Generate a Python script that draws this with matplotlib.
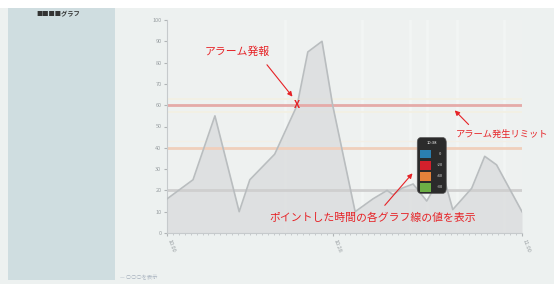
import matplotlib
matplotlib.use("Agg")
import matplotlib.pyplot as plt
from matplotlib.patches import Rectangle, FancyBboxPatch

plt.rcParams['font.family'] = ['Noto Sans CJK JP', 'DejaVu Sans']

# ---- data ----
minutes = [0, 4.4, 8.1, 12.2, 14.0, 18.2, 22.0, 23.8, 26.2, 28.0, 31.8, 34.8,
           37.2, 38.2, 39.7, 41.6, 43.9, 46.6, 48.3, 51.5, 53.7, 55.7, 60]
values = [16, 25, 55, 10, 25, 37, 60, 85, 90, 60, 10, 16,
          20, 18, 21, 23, 15, 28, 11, 21, 36, 32, 10]
limit_lines = [60, 40, 20]
limit_colors = ['#e5aaa8', '#f0cfbb', '#cfcfcf']
x_tick_pos = [0, 28, 60]
x_tick_labels = ['10:00', '10:28', '11:00']
y_ticks = [0, 10, 20, 30, 40, 50, 60, 70, 80, 90, 100]
tip_header = '10:38'
tip_colors = ['#2a7fb0', '#d3202c', '#e3823a', '#6cae45']
tip_values = ['0', '-20', '-40', '-30']
alarm_point = (22.0, 60)

W, H = 554, 284
fig = plt.figure(figsize=(W / 100, H / 100), dpi=100)
fig.patch.set_facecolor('#edf1f0')

def fx(px):
    return px / W

def fy(py):
    return 1 - py / H

# top white strip
fig.patches.append(Rectangle((0, fy(8)), 1, 8 / H, transform=fig.transFigure,
                             facecolor='white', edgecolor='none', zorder=0))
# left panel
fig.patches.append(Rectangle((fx(8), fy(280)), (115 - 8) / W, (280 - 8) / H,
                             transform=fig.transFigure, facecolor='#cfdde0',
                             edgecolor='none', zorder=0))
fig.text(fx(36), fy(14), '■■■■グラフ', fontsize=4.5, color='#333333',
         va='center', ha='left', fontweight='bold')
fig.text(fx(120), fy(278), '— ○○○を表示', fontsize=3.8, color='#aab4c0',
         va='center', ha='left')

ax = fig.add_axes([fx(167), fy(233), fx(522) - fx(167), fy(20) - fy(233)])
ax.set_facecolor('#eef1f0')
ax.set_xlim(0, 60)
ax.set_ylim(0, 100)

# faint vertical bands
for xb in [20, 33, 41, 44, 49, 57]:
    ax.axvline(xb, color='#f2f5f4', lw=2.0, zorder=0)

# faint bands near limit
ax.axhline(63, color='#f3f0e2', lw=1.2, zorder=1)
ax.axhline(57, color='#f3f0e2', lw=1.2, zorder=1)
ax.axhline(43, color='#f3efe6', lw=1.0, zorder=1)

for yv, c in zip(limit_lines, limit_colors):
    ax.axhline(yv, color=c, lw=2.0, zorder=2)

ax.fill_between(minutes, values, 0, color='#d9dbdc', alpha=0.75, zorder=1.5, lw=0)
ax.plot(minutes, values, color='#b9bdbf', lw=1.2, zorder=3)

ax.set_yticks(y_ticks)
ax.set_yticklabels([str(v) for v in y_ticks], fontsize=4, color='#9aa0a3')
ax.set_xticks(x_tick_pos)
ax.set_xticklabels(x_tick_labels, fontsize=4, color='#9aa0a3', rotation=-70,
                   ha='left')
ax.set_xticks(range(0, 61), minor=True)
ax.tick_params(axis='both', which='major', length=2, color='#b0b4b6', pad=2)
ax.tick_params(axis='x', which='minor', length=1.5, color='#c0c4c6')
for s in ['top', 'right']:
    ax.spines[s].set_visible(False)
ax.spines['left'].set_color('#c6cacc')
ax.spines['bottom'].set_color('#c6cacc')

red = '#e62226'
ax.text(alarm_point[0], alarm_point[1], 'X', color=red, fontsize=7,
        ha='center', va='center', zorder=6, fontweight='bold')
ax.annotate('', xy=(21.5, 63), xytext=(16.6, 80), zorder=6,
            arrowprops=dict(arrowstyle='-|>', color=red, lw=0.8,
                            mutation_scale=7))
ax.text(11.8, 85, 'アラーム発報', color=red, fontsize=7.8, ha='center',
        va='center', zorder=6)

ax.annotate('', xy=(48.3, 58.5), xytext=(51.3, 50), zorder=6,
            arrowprops=dict(arrowstyle='-|>', color=red, lw=0.8,
                            mutation_scale=7))
ax.text(48.8, 46.3, 'アラーム発生リミット', color=red, fontsize=6.7, ha='left',
        va='center', zorder=6, clip_on=False)

# tooltip
box = FancyBboxPatch((42.3, 18.6), 4.9, 26.2, boxstyle='round,pad=0,rounding_size=0.6',
                     facecolor='#2b2b2b', edgecolor='#555555', lw=0.5, zorder=7,
                     mutation_aspect=4)
ax.add_patch(box)
ax.text(44.75, 42.4, tip_header, color='white', fontsize=3, ha='center',
        va='center', zorder=8)
for i, (c, v) in enumerate(zip(tip_colors, tip_values)):
    yc = 37.0 - i * 5.2
    ax.add_patch(Rectangle((42.8, yc - 2.0), 1.8, 4.0, facecolor=c,
                           edgecolor='none', zorder=8))
    ax.text(46.1, yc, v, color='#dddddd', fontsize=3, ha='center', va='center',
            zorder=8)

ax.annotate('', xy=(41.8, 29), xytext=(36.5, 12), zorder=9,
            arrowprops=dict(arrowstyle='-|>', color=red, lw=0.8,
                            mutation_scale=7))
ax.text(34.8, 7.3, 'ポイントした時間の各グラフ線の値を表示', color=red,
        fontsize=7.8, ha='center', va='center', zorder=9)

fig.savefig('out.png', dpi=100, facecolor=fig.get_facecolor())
